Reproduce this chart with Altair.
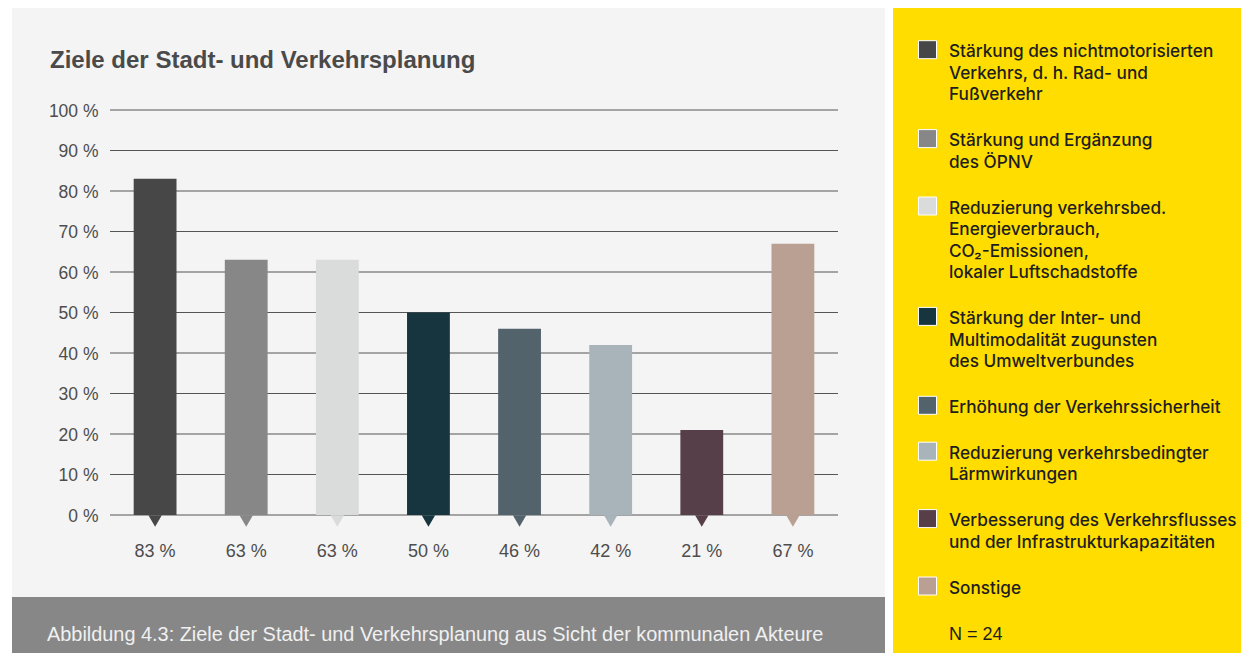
import altair as alt
import pandas as pd

# ---------------- data ----------------
categories = [
    "Stärkung des nichtmotorisierten\nVerkehrs, d. h. Rad- und\nFußverkehr",
    "Stärkung und Ergänzung\ndes ÖPNV",
    "Reduzierung verkehrsbed.\nEnergieverbrauch,\nCO₂-Emissionen,\nlokaler Luftschadstoffe",
    "Stärkung der Inter- und\nMultimodalität zugunsten\ndes Umweltverbundes",
    "Erhöhung der Verkehrssicherheit",
    "Reduzierung verkehrsbedingter\nLärmwirkungen",
    "Verbesserung des Verkehrsflusses\nund der Infrastrukturkapazitäten",
    "Sonstige",
]
values = [83, 63, 63, 50, 46, 42, 21, 67]
colors = ["#474747", "#878787", "#dadbdb", "#16353f", "#53636c", "#a8b4ba", "#573f4a", "#b9a093"]
tick_values = [0, 10, 20, 30, 40, 50, 60, 70, 80, 90, 100]

title_text = "Ziele der Stadt- und Verkehrsplanung"
caption_text = "Abbildung 4.3: Ziele der Stadt- und Verkehrsplanung aus Sicht der kommunalen Akteure"
note_text = "N = 24"

# ---------------- layout ----------------
W, H = 728, 405
PAD_L, PAD_T = 102, 102
CANVAS_W, CANVAS_H = 1233, 645
OX, OY = PAD_L + 8, PAD_T + 8  # page position of plot origin
Y_DOMAIN = [0, 100]

LINE_H = 21.5
GAP = 24.4
FIRST_BASELINE = 57.3  # page y of first legend line


def page_y_to_value(py):
    """Convert a page y position into the y-scale's data units."""
    return (H - (py - OY)) / H * (Y_DOMAIN[1] - Y_DOMAIN[0]) + Y_DOMAIN[0]


keys = [c.replace("\n", " ") for c in categories]
ly = []
cur = FIRST_BASELINE
for c in categories:
    ly.append(cur)
    cur += (c.count("\n") + 1) * LINE_H + GAP
note_y = cur

df = pd.DataFrame({
    "key": keys,
    "label": categories,
    "value": values,
    "zero": [0] * len(values),
    "pct": [f"{v} %" for v in values],
    "ly": [page_y_to_value(v) for v in ly],
    "sq": [page_y_to_value(v - 7.6) for v in ly],
})
ticks_df = pd.DataFrame({"tick": tick_values, "tlabel": [f"{t} %" for t in tick_values]})
one = pd.DataFrame({"a": [0]})

FONT = "Liberation Sans"
y_scale = alt.Scale(domain=Y_DOMAIN)
color_enc = alt.Color("key:N", scale=alt.Scale(domain=keys, range=colors), legend=None)
x_enc = alt.X("key:N", sort=keys, axis=None,
              scale=alt.Scale(paddingInner=0.53, paddingOuter=0.26))


def ypos(field):
    return alt.Y(f"{field}:Q", axis=None, title=None, scale=y_scale)


# ---------------- decoration ----------------
bg = alt.Chart(one).mark_rect(color="#f4f4f4").encode(
    x=alt.value(12 - OX), x2=alt.value(885 - OX),
    y=alt.value(-PAD_T), y2=alt.value(597 - OY))
cap_bar = alt.Chart(one).mark_rect(color="#878787").encode(
    x=alt.value(12 - OX), x2=alt.value(885 - OX),
    y=alt.value(597 - OY), y2=alt.value(CANVAS_H - PAD_T))
yellow = alt.Chart(one).mark_rect(color="#ffdd00").encode(
    x=alt.value(893 - OX), x2=alt.value(CANVAS_W - PAD_L),
    y=alt.value(-PAD_T), y2=alt.value(CANVAS_H - PAD_T))

title = alt.Chart(one).mark_text(
    align="left", baseline="alphabetic", fontSize=24, fontWeight="bold",
    color="#4a4a4a", font=FONT
).encode(x=alt.value(50 - OX), y=alt.value(68 - OY), text=alt.value(title_text))

caption = alt.Chart(one).mark_text(
    align="left", baseline="alphabetic", fontSize=19.9, color="#f0f0f0", font=FONT
).encode(x=alt.value(47 - OX), y=alt.value(640.5 - OY), text=alt.value(caption_text))

# ---------------- plot layers ----------------
grid = alt.Chart(ticks_df).mark_rule(
    color="#555555", strokeWidth=1
).encode(y=ypos("tick"))

ylabels = alt.Chart(ticks_df).mark_text(
    align="right", baseline="middle", fontSize=17.5, color="#4d4d4d", font=FONT, dy=1.5
).encode(x=alt.value(-11.5), y=ypos("tick"), text="tlabel:N")

bars = alt.Chart(df).mark_bar().encode(
    x=x_enc, y=ypos("value"), color=color_enc,
)

tri = alt.Chart(df).mark_point(
    shape="triangle-down", filled=True, size=180, opacity=1, yOffset=6
).encode(x=x_enc, y=ypos("zero"), color=color_enc)

vals = alt.Chart(df).mark_text(
    dy=42, baseline="alphabetic", fontSize=18, color="#4d4d4d", font=FONT
).encode(x=x_enc, y=ypos("zero"), text="pct:N")

# ---------------- legend ----------------
leg_sq = alt.Chart(df).mark_square(
    size=324, filled=True, opacity=1, stroke="white", strokeWidth=1
).encode(x=alt.value(927.5 - OX), y=ypos("sq"), color=color_enc)

leg_txt = alt.Chart(df).mark_text(
    align="left", baseline="alphabetic", lineBreak="\n", lineHeight=LINE_H,
    fontSize=17.2, font="Inter", fontWeight=500, color="#1e1e1e"
).encode(x=alt.value(949 - OX), y=ypos("ly"), text="label:N")

note = alt.Chart(one).mark_text(
    align="left", baseline="alphabetic", fontSize=18, font=FONT, color="#1e1e1e"
).encode(x=alt.value(949 - OX), y=alt.value(note_y - OY), text=alt.value(note_text))

chart = alt.layer(
    bg, cap_bar, yellow, title, caption, grid, ylabels, bars, tri, vals, leg_sq, leg_txt, note
).properties(
    width=W, height=H,
    padding={"left": PAD_L, "top": PAD_T,
             "right": CANVAS_W - PAD_L - W, "bottom": CANVAS_H - PAD_T - H},
    autosize=alt.AutoSizeParams(type="none"),
    background="white",
).configure_view(stroke=None)

chart.save("out.html", embed_options={"renderer": "svg", "actions": False})
